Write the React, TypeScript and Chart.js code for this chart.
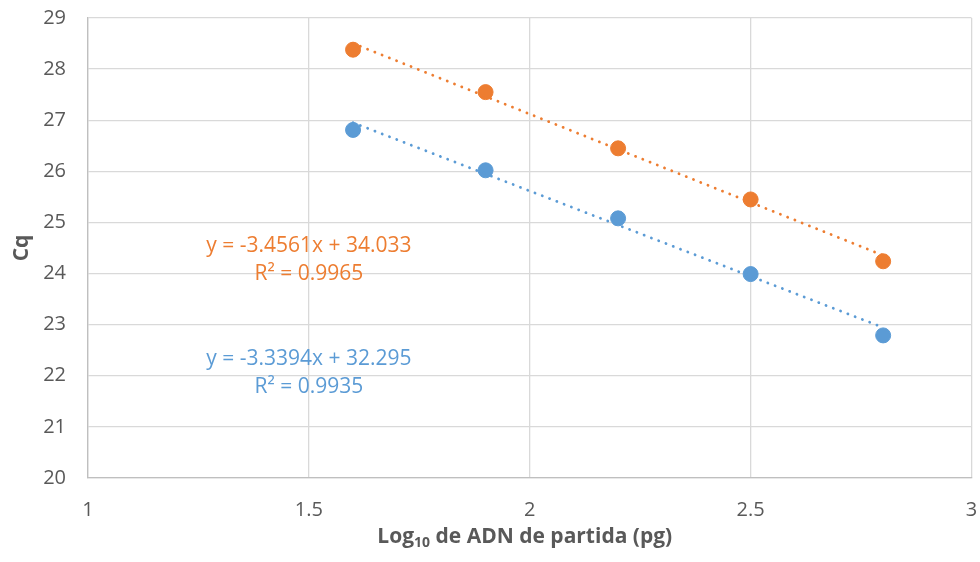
import React, { useEffect, useRef } from "react";
import { Chart, registerables } from "chart.js";

Chart.register(...registerables);

// Data
const xValues = [1.6, 1.9, 2.2, 2.5, 2.8];
const orangeCq = [28.38, 27.55, 26.45, 25.45, 24.24];
const blueCq = [26.81, 26.02, 25.08, 23.99, 22.79];

// Trendline equations shown on the chart
const orangeFit = { slope: -3.4561, intercept: 34.033 };
const blueFit = { slope: -3.3394, intercept: 32.295 };

const orangeLabel = ["y = -3.4561x + 34.033", "R² = 0.9965"];
const blueLabel = ["y = -3.3394x + 32.295", "R² = 0.9935"];

const xAxisTitle = ["Log", "10", " de ADN de partida (pg)"];
const yAxisTitle = "Cq";

const ORANGE = "#ED7D31";
const BLUE = "#5B9BD5";
const FONT = "'Open Sans', 'Noto Sans', sans-serif";

const toPoints = (xs: number[], ys: number[]) => xs.map((x, i) => ({ x, y: ys[i] }));
const fitLine = (xs: number[], fit: { slope: number; intercept: number }) => {
  const x0 = xs[0];
  const x1 = xs[xs.length - 1];
  return [
    { x: x0, y: fit.slope * x0 + fit.intercept },
    { x: x1, y: fit.slope * x1 + fit.intercept },
  ];
};

const labelsPlugin = {
  id: "eqLabels",
  afterDatasetsDraw(chart: any) {
    const { ctx, scales } = chart;
    const xs = scales.x;
    const ys = scales.y;
    ctx.save();
    ctx.font = `21px ${FONT}`;
    ctx.textAlign = "center";
    ctx.textBaseline = "middle";
    const draw = (lines: string[], color: string, ax: number, ay: number) => {
      ctx.fillStyle = color;
      const px = xs.getPixelForValue(ax);
      const py = ys.getPixelForValue(ay);
      lines.forEach((t, i) => ctx.fillText(t, px, py + i * 28));
    };
    draw(orangeLabel, ORANGE, 1.5, 24.53);
    draw(blueLabel, BLUE, 1.5, 22.33);

    // x axis title with subscript
    const area = chart.chartArea;
    const cx = (area.left + area.right) / 2 - 5;
    const cy = 536;
    ctx.fillStyle = "#595959";
    ctx.textAlign = "left";
    ctx.textBaseline = "alphabetic";
    const big = `bold 21px ${FONT}`;
    const small = `bold 14px ${FONT}`;
    const [p1, p2, p3] = xAxisTitle;
    ctx.font = big;
    const w1 = ctx.measureText(p1).width;
    const w3 = ctx.measureText(p3).width;
    ctx.font = small;
    const w2 = ctx.measureText(p2).width;
    let x = cx - (w1 + w2 + w3) / 2;
    const base = cy + 7;
    ctx.font = big;
    ctx.fillText(p1, x, base);
    x += w1;
    ctx.font = small;
    ctx.fillText(p2, x, base + 4);
    x += w2;
    ctx.font = big;
    ctx.fillText(p3, x, base);
    ctx.restore();
  },
};

export default function App() {
  const ref = useRef<HTMLCanvasElement | null>(null);

  useEffect(() => {
    if (!ref.current) return;
    Chart.defaults.font.family = FONT;
    const chart = new Chart(ref.current, {
      type: "scatter",
      data: {
        datasets: [
          {
            label: "Serie naranja",
            data: toPoints(xValues, orangeCq),
            backgroundColor: ORANGE,
            borderColor: ORANGE,
            pointRadius: 7.5,
            pointHoverRadius: 7.5,
            order: 1,
          },
          {
            label: "Serie azul",
            data: toPoints(xValues, blueCq),
            backgroundColor: BLUE,
            borderColor: BLUE,
            pointRadius: 7.5,
            pointHoverRadius: 7.5,
            order: 1,
          },
          {
            label: "Lineal (naranja)",
            data: fitLine(xValues, orangeFit),
            showLine: true,
            borderColor: ORANGE,
            borderWidth: 2.8,
            borderDash: [0.1, 7.7],
            borderCapStyle: "round",
            pointRadius: 0,
            order: 0,
          } as any,
          {
            label: "Lineal (azul)",
            data: fitLine(xValues, blueFit),
            showLine: true,
            borderColor: BLUE,
            borderWidth: 2.8,
            borderDash: [0.1, 7.7],
            borderCapStyle: "round",
            pointRadius: 0,
            order: 0,
          } as any,
        ],
      },
      options: {
        animation: false,
        responsive: true,
        maintainAspectRatio: false,
        layout: { padding: { top: 18, right: 8, left: 0, bottom: 0 } },
        plugins: {
          legend: { display: false },
          tooltip: { enabled: false },
        },
        scales: {
          x: {
            type: "linear",
            min: 1,
            max: 3,
            ticks: {
              stepSize: 0.5,
              color: "#595959",
              font: { size: 20, family: FONT },
              padding: 20,
              maxRotation: 0,
              callback: (v: any) => String(Number(v)),
            },
            grid: { color: "#D9D9D9", lineWidth: 1.3, drawTicks: false },
            border: { color: "#BFBFBF", width: 1.3 },
            afterFit: (s: any) => {
              s.height = 84;
              s.paddingLeft = 0;
              s.paddingRight = 0;
            },
          },
          y: {
            type: "linear",
            min: 20,
            max: 29,
            ticks: {
              stepSize: 1,
              color: "#595959",
              font: { size: 20, family: FONT },
              padding: 22,
            },
            grid: { color: "#D9D9D9", lineWidth: 1.3, drawTicks: false },
            border: { color: "#BFBFBF", width: 1.3 },
            title: {
              display: true,
              text: yAxisTitle,
              color: "#595959",
              font: { size: 21, weight: "bold", family: FONT },
              padding: { top: 9, bottom: 0 },
            },
            afterFit: (s: any) => {
              s.width = 88;
              s.paddingTop = 0;
              s.paddingBottom = 0;
            },
          },
        },
      },
      plugins: [labelsPlugin],
    });
    return () => chart.destroy();
  }, []);

  return (
    <div style={{ position: "absolute", left: 0, top: 0, width: 980, height: 562 }}>
      <canvas ref={ref} />
    </div>
  );
}
